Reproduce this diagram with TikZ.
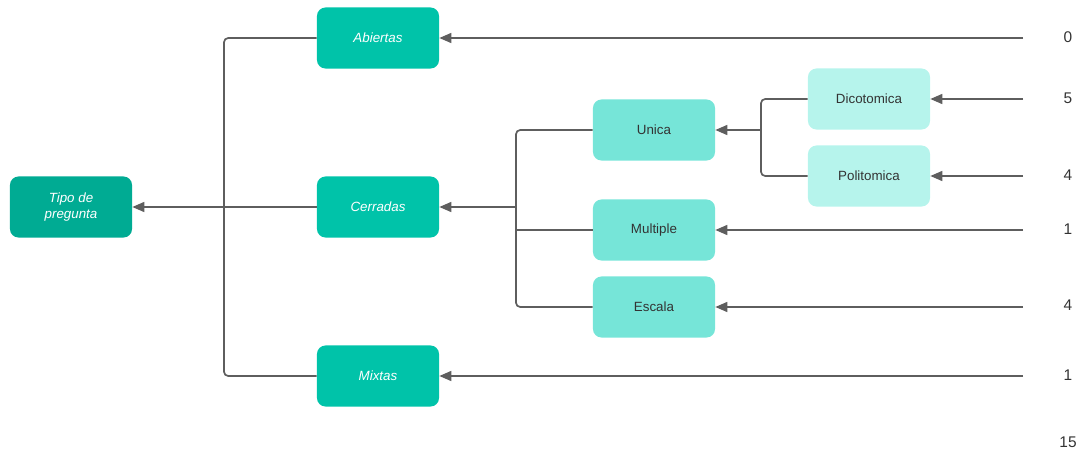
\documentclass[tikz,border=0pt]{standalone}
\usepackage{fontspec}
\setmainfont{Liberation Sans}
\usetikzlibrary{arrows.meta}
\definecolor{tealosc}{HTML}{00AB93}
\definecolor{tealmed}{HTML}{00C3A9}
\definecolor{tealcla}{HTML}{76E5D8}
\definecolor{tealpal}{HTML}{B6F4EC}
\definecolor{gris}{HTML}{5E5E5E}
\definecolor{texto}{HTML}{333333}
\tikzset{
	caja/.style={draw=none, rounded corners=6pt, minimum width=3.05cm, minimum height=1.525cm, align=center, font=\fontsize{9.5}{11.5}\selectfont},
	nivel1/.style={caja, fill=tealmed, text=white, font=\fontsize{9.5}{11.5}\selectfont\itshape},
	nivel2/.style={caja, fill=tealcla, text=texto},
	nivel3/.style={caja, fill=tealpal, text=texto},
	linea/.style={gris, line width=1.2pt, rounded corners=3pt},
	flecha/.style={linea, -{Triangle[length=8.5pt, width=7pt]}},
	cifra/.style={text=texto, font=\fontsize{11}{13}\selectfont}
}
\begin{document}
\begin{tikzpicture}[x=0.025cm, y=-0.025cm]
	\useasboundingbox (0,0) rectangle (1081,454);
	% Cajas
		% Raiz
			\node[caja, fill=tealosc, text=white, font=\fontsize{9.5}{11.5}\selectfont\itshape] (tipo) at (71,207) {Tipo de\\pregunta};
		% Primer nivel
			\node[nivel1] (abiertas) at (378,38) {Abiertas};
			\node[nivel1] (cerradas) at (378,207) {Cerradas};
			\node[nivel1] (mixtas) at (378,376) {Mixtas};
		% Segundo nivel
			\node[nivel2] (unica) at (654,130) {Unica};
			\node[nivel2] (multiple) at (654,230) {Multiple};
			\node[nivel2] (escala) at (654,307) {Escala};
		% Tercer nivel
			\node[nivel3] (dicotomica) at (869,99) {Dicotomica};
			\node[nivel3] (politomica) at (869,176) {Politomica};

	% Llaves
		\coordinate (j1) at (224,207);
		\coordinate (j2) at (516,207);
		\coordinate (j3) at (761,130);
		\draw[linea] (abiertas.west) -- (abiertas.west -| j1) -- (mixtas.west -| j1) -- (mixtas.west);
		\draw[flecha] (cerradas.west) -- (tipo.east);
		\draw[linea] (unica.west) -- (unica.west -| j2) -- (escala.west -| j2) -- (escala.west);
		\draw[linea] (multiple.west -| j2) -- (multiple.west);
		\draw[flecha] (j2) -- (cerradas.east);
		\draw[linea] (dicotomica.west) -- (dicotomica.west -| j3) -- (politomica.west -| j3) -- (politomica.west);
		\draw[flecha] (j3) -- (unica.east);

	% Entradas
		\coordinate (e1) at (1023,38);
		\coordinate (e2) at (1023,99);
		\coordinate (e3) at (1023,176);
		\coordinate (e4) at (1023,230);
		\coordinate (e5) at (1023,307);
		\coordinate (e6) at (1023,376);
		\draw[flecha] (e1) -- (abiertas.east);
		\draw[flecha] (e2) -- (dicotomica.east);
		\draw[flecha] (e3) -- (politomica.east);
		\draw[flecha] (e4) -- (multiple.east);
		\draw[flecha] (e5) -- (escala.east);
		\draw[flecha] (e6) -- (mixtas.east);

	% Cifras
		\node[cifra] (c1) at (1068,37) {0};
		\node[cifra] (c2) at (1068,98) {5};
		\node[cifra] (c3) at (1068,175) {4};
		\node[cifra] (c4) at (1068,229) {1};
		\node[cifra] (c5) at (1068,305) {4};
		\node[cifra] (c6) at (1068,375) {1};
		\node[cifra] (total) at (1068,442) {15};
\end{tikzpicture}
\end{document}
